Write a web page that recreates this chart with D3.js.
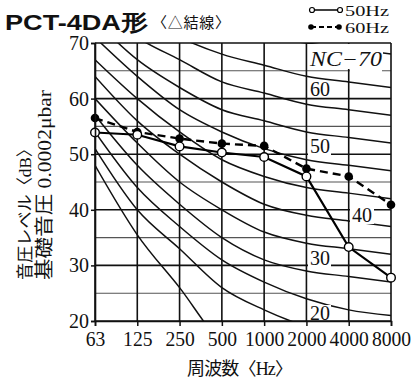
<!DOCTYPE html>
<html><head><meta charset="utf-8">
<script src="https://cdn.jsdelivr.net/npm/d3@7"></script>
<style>body{margin:0;background:#fff}svg{display:block}</style>
</head><body>
<script>
// ---- data ----
const freqs = ["63","125","250","500","1000","2000","4000","8000"];
const ncLevels = [15,20,25,30,35,40,45,50,55,60,65,70];
const nc15 = [48,35.5,26,16,12,10,9,8];
const nc20 = [51,40,33,26,22,19,17,16];
const nc25 = [54,44,37,31,27,24,22,21];
const nc30 = [57,48,41,35,31,29,28,27];
const nc35 = [60,52,45,40,36,34,33,32];
const nc40 = [64,56,50,45,41,39,38,37];
const nc45 = [67,60,54,49,46,44,43,42];
const nc50 = [71,64,58,54,51,49,48,47];
const nc55 = [74,67,62,58,56,54,53,52];
const nc60 = [77,71,67,63,61,59,58,57];
const nc65 = [80,75,71,68,66,64,63,62];
const nc70 = [83,79,75,72,71,70,69,68];
const series50 = [53.9,53.5,51.4,50.3,49.5,46.0,33.3,27.8];
const series60 = [56.5,54.0,52.8,51.9,51.5,47.4,46.0,40.9];
const yTicks = [20,30,40,50,60,70];
const yGrid = [20,25,30,35,40,45,50,55,60,65,70];

const W=414,H=381;
const svg=d3.select("body").append("svg").attr("width",W).attr("height",H);
const x=d3.scalePoint().domain(freqs).range([95,391]);
const y=d3.scaleLinear().domain([20,70]).range([321,43]);
const serif='"Liberation Serif","Noto Sans CJK JP",serif';
const cjk='"Noto Sans CJK JP",sans-serif';

svg.append("clipPath").attr("id","plot").append("rect")
  .attr("x",95).attr("y",43).attr("width",296).attr("height",278);

// grid
const g=svg.append("g");
g.selectAll("line.h").data(yGrid).join("line")
  .attr("x1",95).attr("x2",391).attr("y1",d=>y(d)).attr("y2",d=>y(d))
  .attr("stroke",d=>d%10===0?"#111":"#555").attr("stroke-width",d=>d%10===0?1.6:1.1);
g.selectAll("line.v").data(freqs).join("line")
  .attr("x1",d=>x(d)).attr("x2",d=>x(d)).attr("y1",y(70)).attr("y2",y(20))
  .attr("stroke","#111").attr("stroke-width",1.6);

// NC curves
const ncData=[nc15,nc20,nc25,nc30,nc35,nc40,nc45,nc50,nc55,nc60,nc65,nc70];
const line=d3.line().x((d,i)=>x(freqs[i])).y(d=>y(d)).curve(d3.curveMonotoneX);
svg.append("g").attr("clip-path","url(#plot)").selectAll("path").data(ncData).join("path")
  .attr("d",line).attr("fill","none").attr("stroke","#111").attr("stroke-width",1.5);

// NC labels with white boxes
const labels=[
  {t:"NC\u221270",x:310,y:66,w:73,bx:308,by:44,bh:25,it:true},
  {t:"60",x:310,y:96,bx:308,by:81,w:21,bh:16},
  {t:"50",x:310,y:153,bx:308,by:139,w:21,bh:16},
  {t:"40",x:352,y:222,bx:350,by:207,w:22,bh:17},
  {t:"30",x:310,y:265,bx:308,by:251,w:21,bh:16},
  {t:"20",x:310,y:320,bx:308,by:305,w:21,bh:15}
];
svg.append("rect").attr("x",350).attr("y",68).attr("width",32).attr("height",4).attr("fill","#fff");
labels.forEach(l=>{
  svg.append("rect").attr("x",l.bx).attr("y",l.by).attr("width",l.w+2).attr("height",l.bh).attr("fill","#fff");
  const t=svg.append("text").attr("x",l.x).attr("y",l.y).text(l.t)
    .attr("font-family",serif).attr("font-size",20).attr("fill","#111");
  if(l.it){t.attr("font-style","italic").attr("textLength",72).attr("lengthAdjust","spacingAndGlyphs");}
});

// series
const sline=d3.line().x((d,i)=>x(freqs[i])).y(d=>y(d));
svg.append("path").datum(series60).attr("d",sline).attr("fill","none")
  .attr("stroke","#000").attr("stroke-width",2.4).attr("stroke-dasharray","8,5");
svg.append("path").datum(series50).attr("d",sline).attr("fill","none")
  .attr("stroke","#000").attr("stroke-width",2.2);
svg.selectAll("circle.s60").data(series60).join("circle")
  .attr("cx",(d,i)=>x(freqs[i])).attr("cy",d=>y(d)).attr("r",4.3).attr("fill","#000");
svg.selectAll("circle.s50").data(series50).join("circle")
  .attr("cx",(d,i)=>x(freqs[i])).attr("cy",d=>y(d)).attr("r",4.3)
  .attr("fill","#fff").attr("stroke","#000").attr("stroke-width",1.4);

// axes
const ya=svg.append("g").attr("transform","translate(95,0)")
  .call(d3.axisLeft(y).tickValues(yTicks).tickSize(4).tickPadding(2));
const xa=svg.append("g").attr("transform","translate(0,321)")
  .call(d3.axisBottom(x).tickSize(5).tickPadding(6));
[ya,xa].forEach(a=>{
  a.select(".domain").attr("stroke","#111").attr("stroke-width",1.6);
  a.selectAll(".tick line").attr("stroke","#111").attr("stroke-width",1.5);
  a.selectAll("text").attr("font-family",serif).attr("font-size",20).attr("fill","#111");
});
xa.selectAll("text").attr("textLength",d=>d.length*9.8).attr("lengthAdjust","spacingAndGlyphs");

// titles
svg.append("text").attr("x",5).attr("y",30).text("PCT-4DA形")
  .attr("font-family",'"Liberation Sans",Arial,sans-serif').attr("font-weight","bold")
  .attr("font-size",22).attr("textLength",143).attr("lengthAdjust","spacingAndGlyphs").attr("fill","#111");
svg.append("text").attr("x",152).attr("y",28).text("〈△結線〉")
  .attr("font-family",cjk).attr("font-size",15).attr("textLength",78).attr("fill","#111");

// legend
const leg=svg.append("g");
leg.append("line").attr("x1",312).attr("x2",340).attr("y1",10).attr("y2",10).attr("stroke","#000").attr("stroke-width",1.5);
[312,340].forEach(cx=>leg.append("circle").attr("cx",cx).attr("cy",10).attr("r",2.5).attr("fill","#fff").attr("stroke","#000").attr("stroke-width",1.2));
leg.append("line").attr("x1",311).attr("x2",339).attr("y1",27).attr("y2",27).attr("stroke","#000").attr("stroke-width",1.8).attr("stroke-dasharray","5,3");
[311,339].forEach(cx=>leg.append("circle").attr("cx",cx).attr("cy",27).attr("r",2.8).attr("fill","#000"));
leg.append("text").attr("x",345).attr("y",16).text("50Hz").attr("font-family",serif).attr("font-size",15.5)
  .attr("textLength",44).attr("lengthAdjust","spacingAndGlyphs").attr("fill","#111");
leg.append("text").attr("x",345).attr("y",33).text("60Hz").attr("font-family",serif).attr("font-size",15.5)
  .attr("textLength",44).attr("lengthAdjust","spacingAndGlyphs").attr("fill","#111");

// y axis titles
svg.append("text").attr("transform","translate(31,280) rotate(-90)").text("音圧レベル〈dB〉")
  .attr("font-family",serif).attr("font-size",17).attr("textLength",140).attr("lengthAdjust","spacingAndGlyphs").attr("fill","#111");
svg.append("text").attr("transform","translate(51,280) rotate(-90)").text("基礎音圧 0.0002μbar")
  .attr("font-family",serif).attr("font-size",19).attr("textLength",190).attr("lengthAdjust","spacingAndGlyphs").attr("fill","#111");

// x axis title
svg.append("text").attr("x",187).attr("y",375).text("周波数〈Hz〉")
  .attr("font-family",serif).attr("font-size",18).attr("textLength",106).attr("fill","#111");
</script>
</body></html>
